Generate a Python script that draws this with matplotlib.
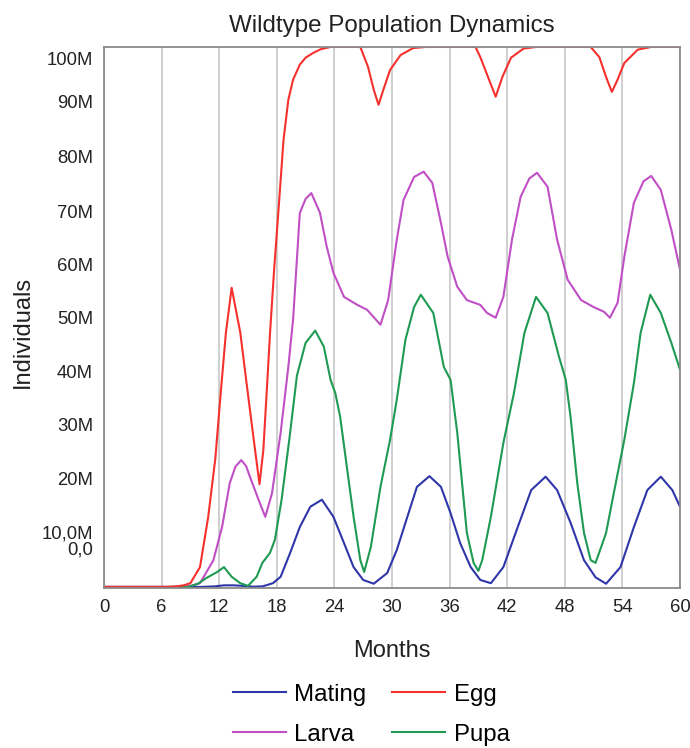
import matplotlib
matplotlib.use("Agg")
import matplotlib.pyplot as plt

plt.rcParams['font.family'] = ['Liberation Sans', 'DejaVu Sans']

# values, in millions of individuals
egg_months = [0, 6.5, 7.5, 8.3, 9.0, 10.0, 10.85, 11.6, 12.1, 12.7, 13.3, 14.2, 14.9, 15.6, 16.2,
              16.6, 17.0, 17.3, 17.7, 18.2, 18.7, 19.2, 19.7, 20.4, 21.0, 21.8, 22.6, 23.6, 26.7,
              27.5, 28.1, 28.6, 29.1, 29.8, 30.9, 32.2, 33.5, 38.7, 39.2, 40.0, 40.8, 41.5, 42.4,
              43.7, 45, 50.7, 51.6, 52.3, 52.9, 53.5, 54.2, 55.6, 57, 60]
egg = [0, 0, 0.1, 0.3, 0.7, 3.7, 13, 24, 35, 47.5, 55.9, 47.5, 37.4, 27.5, 19.2,
       25.6, 38, 47.5, 58.7, 71, 83.5, 91, 94.8, 97.6, 98.9, 99.8, 100.5, 100.9, 100.9,
       97.2, 92.9, 90.1, 92.9, 96.6, 99.4, 100.7, 100.9, 100.9, 99, 95.3, 91.6, 95.3, 98.9,
       100.6, 100.9, 100.9, 99, 95.3, 92.5, 94.8, 97.9, 100.4, 100.9, 100.9]

larva_months = [0, 8.0, 9.0, 10.0, 11.4, 12.3, 13.1, 13.7, 14.3, 14.8, 15.2, 16.1, 16.8, 17.5,
                18.4, 19.2, 19.7, 20.4, 21.0, 21.6, 22.5, 23.2, 23.9, 25.0, 26.4, 27.4, 28.2,
                28.8, 29.6, 30.5, 31.2, 32.3, 33.3, 34.2, 35.1, 35.8, 36.8, 37.8, 39.2, 39.9,
                40.8, 41.6, 42.5, 43.4, 44.3, 45.1, 46.2, 47.2, 48.3, 49.7, 51.0, 52.1, 52.7,
                53.5, 54.2, 55.2, 56.2, 57.0, 58.0, 59.1, 60]
larva = [0, 0, 0.2, 0.7, 5, 11.2, 19.4, 22.5, 23.7, 22.6, 20.6, 16.3, 13.1, 17.5,
         28.8, 41.1, 50, 69.9, 72.5, 73.6, 69.9, 63.6, 58.7, 54.2, 52.7, 51.8, 50.2,
         49, 53.6, 64.9, 72.3, 76.6, 77.6, 75.5, 68, 61.7, 56.1, 53.6, 52.7, 51.2,
         50.3, 54.2, 64.9, 72.9, 76.3, 77.4, 74.8, 64.9, 57.4, 53.6, 52.3, 51.4, 50.3,
         53.1, 61.7, 71.8, 75.8, 76.8, 74.2, 66.7, 59.3]

pupa_months = [0, 8.8, 9.8, 10.7, 11.8, 12.5, 13.3, 14.2, 15.0, 15.9, 16.5, 17.3, 17.8, 18.5,
               19.3, 20.1, 21.0, 22.0, 22.9, 23.6, 24.1, 24.6, 25.3, 26.0, 26.7, 27.1, 27.8,
               28.8, 29.8, 30.5, 31.4, 32.3, 33.0, 34.3, 35.4, 36.1, 36.8, 37.3, 37.8, 38.5,
               39.0, 39.4, 40.3, 41.6, 42.7, 43.8, 45.0, 46.2, 47.4, 48.1, 48.6, 49.3, 50.0,
               50.7, 51.2, 51.8, 52.3, 53.1, 54.2, 55.2, 55.9, 56.9, 58.0, 59.1, 60]
pupa = [0, 0, 0.6, 1.7, 2.8, 3.7, 1.9, 0.7, 0.2, 1.9, 4.5, 6.4, 8.8, 16.3,
        27.5, 39.5, 45.6, 47.9, 44.9, 38.7, 36.2, 31.8, 22.4, 13.1, 5, 2.8, 7.5,
        18.7, 27.5, 35, 46.2, 52.3, 54.6, 51.2, 41.1, 38.7, 28.8, 19.4, 10.1, 4.5,
        3.0, 5.0, 13.1, 26.9, 36.2, 47.5, 54.2, 51.2, 43, 38.7, 31.8, 19.4, 10.1,
        5, 4.5, 7.5, 10.1, 17.5, 27.5, 38.1, 47.5, 54.6, 51.2, 45.6, 40.6]

mating_months = [0, 10, 11.5, 12.5, 13.5, 14.5, 15.5, 16.5, 17.6, 18.4, 19.4, 20.4, 21.5, 22.7,
                 23.9, 25.0, 26.0, 27.0, 28.1, 29.5, 30.5, 31.6, 32.6, 33.9, 35.1, 36.1, 37.1,
                 38.2, 39.2, 40.3, 41.6, 43.1, 44.5, 46.0, 47.2, 48.6, 50.0, 51.2, 52.3, 53.8,
                 55.2, 56.6, 58.0, 59.2, 60]
mating = [0, 0, 0.1, 0.3, 0.3, 0.2, 0.05, 0.1, 0.7, 1.9, 6.4, 11.2, 15, 16.3,
          13.1, 8.2, 3.7, 1.3, 0.6, 2.6, 6.9, 13.1, 18.7, 20.7, 18.7, 13.8, 8.2,
          3.7, 1.3, 0.7, 3.7, 11.2, 18.1, 20.6, 18.1, 12, 5, 1.8, 0.6, 3.7,
          11.2, 18.1, 20.6, 18.1, 15]

x_ticks = [0, 6, 12, 18, 24, 30, 36, 42, 48, 54, 60]
y_labels = ['0,0', '10,0M', '20M', '30M', '40M', '50M', '60M', '70M', '80M', '90M', '100M']
# where the source tool put its (slightly misplaced) labels
y_label_pos = [7.3, 10.3, 20.2, 30.3, 40.2, 50.3, 60.2, 70.1, 80.4, 90.7, 98.7]

fig = plt.figure(figsize=(6.9, 7.48), dpi=100)
ax = fig.add_axes([0.1507, 0.2139, 0.8348, 0.7233])

lw = 1.5
l_mat, = ax.plot(mating_months, mating, color='#2f36a9', lw=lw, label='Mating')
l_lar, = ax.plot(larva_months, larva, color='#c04fc6', lw=lw, label='Larva')
l_pup, = ax.plot(pupa_months, pupa, color='#1e9a52', lw=lw, label='Pupa')
l_egg, = ax.plot(egg_months, egg, color='#f5312e', lw=lw, label='Egg')

ax.set_xlim(0, 60)
ax.set_ylim(-0.2, 100.9)
ax.set_xticks(x_ticks)
ax.set_yticks(y_label_pos)
ax.set_yticklabels(y_labels)
ax.tick_params(axis='both', length=0, labelsize=13.3, colors='#222222')
ax.tick_params(axis='x', pad=8)
ax.tick_params(axis='y', pad=8)
ax.xaxis.grid(True, color='#cccccc', lw=1.3)
ax.set_axisbelow(True)
for s in ax.spines.values():
    s.set_color('#8a8a8a')
    s.set_linewidth(1.3)

ax.set_title('Wildtype Population Dynamics', fontsize=17.4, pad=11, color='#222222')
ax.set_xlabel('Months', fontsize=17, labelpad=17, color='#222222')
ax.set_ylabel('Individuals', fontsize=17, color='#222222')
ax.yaxis.set_label_coords(-0.122, 0.473)

fig.legend([l_mat, l_lar, l_egg, l_pup], ['Mating', 'Larva', 'Egg', 'Pupa'],
           ncol=2, loc='upper center', bbox_to_anchor=(0.538, 0.115), frameon=False,
           fontsize=17.3, handlelength=2.2, handletextpad=0.35, columnspacing=1.1,
           labelspacing=0.75)

fig.savefig('out.png', dpi=100)
